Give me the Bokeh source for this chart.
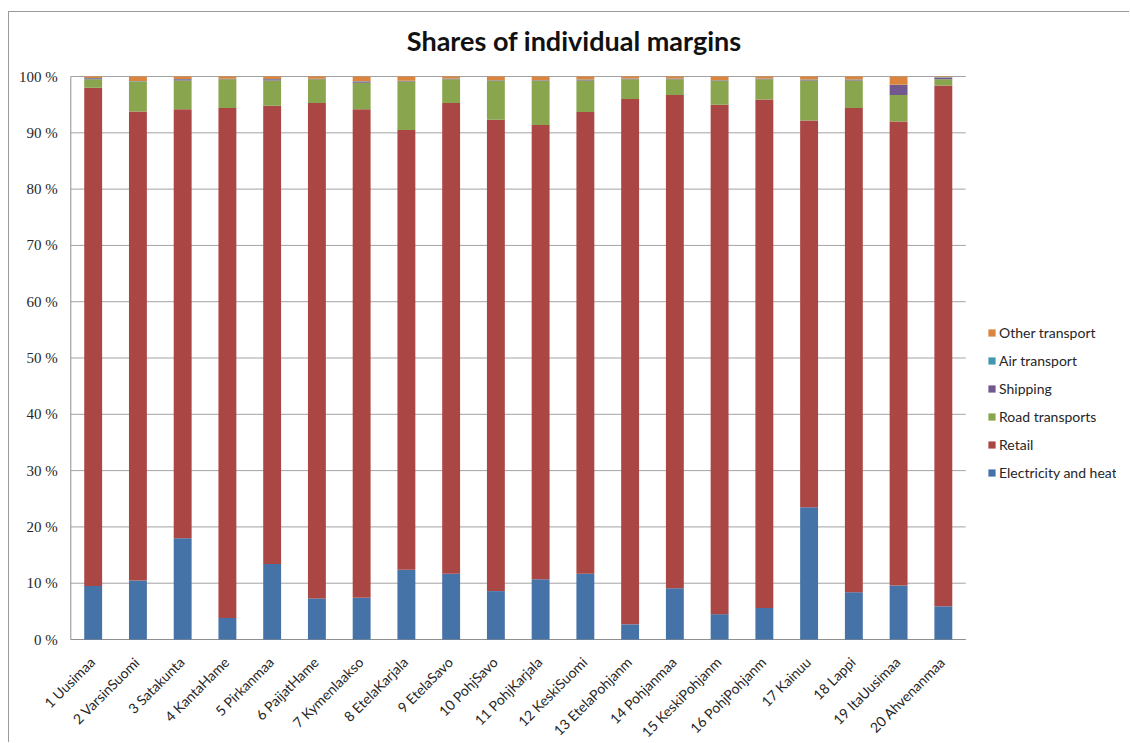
from bokeh.plotting import figure
from bokeh.models import ColumnDataSource, FactorRange, Range1d, Legend, LegendItem, Label
from bokeh.core.properties import value
from bokeh.embed import file_html
from bokeh.resources import INLINE
import math

regions = ["1 Uusimaa", "2 VarsinSuomi", "3 Satakunta", "4 KantaHame", "5 Pirkanmaa",
           "6 PaijatHame", "7 Kymenlaakso", "8 EtelaKarjala", "9 EtelaSavo", "10 PohjSavo",
           "11 PohjKarjala", "12 KeskiSuomi", "13 EtelaPohjanm", "14 Pohjanmaa",
           "15 KeskiPohjanm", "16 PohjPohjanm", "17 Kainuu", "18 Lappi", "19 ItaUusimaa",
           "20 Ahvenanmaa"]

# shares of each margin type, percent
electricity = [9.5, 10.5, 18.0, 3.8, 13.4, 7.3, 7.4, 12.4, 11.7, 8.6,
               10.7, 11.7, 2.7, 9.1, 4.5, 5.6, 23.5, 8.4, 9.6, 5.9]
retail = [88.5, 83.3, 76.2, 90.6, 81.4, 88.0, 86.8, 78.1, 83.6, 83.7,
          80.7, 82.0, 93.3, 87.6, 90.5, 90.3, 68.7, 86.0, 82.4, 92.5]
road = [1.5, 5.3, 5.1, 5.1, 4.5, 4.2, 4.7, 8.6, 4.2, 6.9,
        7.8, 5.6, 3.5, 2.8, 4.2, 3.6, 7.1, 4.9, 4.7, 1.1]
shipping = [0.2, 0.05, 0.2, 0.05, 0.2, 0.05, 0.2, 0.1, 0.1, 0.1,
            0.1, 0.1, 0.1, 0.1, 0.1, 0.1, 0.1, 0.1, 1.8, 0.3]
air = [0.05, 0.05, 0.05, 0.05, 0.05, 0.05, 0.05, 0.05, 0.05, 0.05,
       0.05, 0.05, 0.05, 0.05, 0.05, 0.05, 0.05, 0.05, 0.05, 0.05]
other = [0.25, 0.8, 0.45, 0.4, 0.45, 0.4, 0.85, 0.75, 0.35, 0.65,
         0.65, 0.55, 0.35, 0.35, 0.65, 0.35, 0.55, 0.55, 1.45, 0.15]

series_names = ["Electricity and heat", "Retail", "Road transports", "Shipping",
                "Air transport", "Other transport"]
series_keys = ["electricity", "retail", "road", "shipping", "air", "other"]
colors = ["#4572A7", "#AA4643", "#89A54E", "#71588F", "#4198AF", "#DB843D"]

y_ticks = [0, 10, 20, 30, 40, 50, 60, 70, 80, 90, 100]
y_tick_labels = ["0 %", "10 %", "20 %", "30 %", "40 %", "50 %", "60 %", "70 %",
                 "80 %", "90 %", "100 %"]

# empty slots to the right of the regions, where the legend sits
legend_slots = [" ", "  "]

n = len(regions)
source = ColumnDataSource(dict(region=regions, electricity=electricity, retail=retail,
                               road=road, shipping=shipping, air=air, other=other,
                               base=[0] * n))
ticks = ColumnDataSource(dict(y=y_ticks, label=y_tick_labels, x0=[0] * len(y_ticks),
                              x1=[n] * len(y_ticks)))

# the frame covers the whole drawing area so that the title, slanted names, percent
# labels and the legend all lie inside it; the axes are drawn in data space
x_range = FactorRange(*regions, *legend_slots, range_padding=1.37,
                      range_padding_units="absolute")
p = figure(width=1121, height=731, x_range=x_range, y_range=Range1d(-18.47, 111.37),
           output_backend="svg", toolbar_location=None,
           min_border_left=0, min_border_right=14, min_border_top=0,
           min_border_bottom=0, margin=(11, 0, 0, 8))
p.styles = {"border-left": "1px solid #9a9a9a", "border-top": "1px solid #9a9a9a"}
p.outline_line_color = None
p.background_fill_color = "white"
p.border_fill_color = "white"
p.xaxis.visible = False
p.yaxis.visible = False
p.xgrid.grid_line_color = None
p.ygrid.grid_line_color = None

# horizontal grid lines and the two axis lines
p.segment(x0="x0", x1="x1", y0="y", y1="y", source=ticks, line_color="#a3a3a3",
          line_width=1)
p.segment(x0=[0, 0], y0=[0, 0], x1=[0, n], y1=[100, 0], line_color="#8f8f8f",
          line_width=1)

renderers = p.vbar_stack(series_keys, x="region", width=0.4, source=source,
                         color=colors, line_color=None)

# percent labels on the left
p.text(x="x0", y="y", text="label", source=ticks, x_offset=-13, text_align="right",
       text_baseline="middle", text_font=value("Liberation Serif"),
       text_font_size="15px", text_color="#262626")

# region names below the baseline
p.text(x="region", y="base", text="region", source=source, angle=math.pi / 4,
       text_align="right", text_baseline="middle", x_offset=-1, y_offset=20,
       text_font=value("Lato"), text_font_size="14px", text_color="#262626")

# legend, top item is the top of the stack
items = [LegendItem(label=nm, renderers=[r]) for nm, r in zip(series_names, renderers)]
legend = Legend(items=list(reversed(items)), location=(978, 261),
                glyph_width=9, glyph_height=9, label_standoff=3, spacing=8,
                label_height=20, padding=0, margin=0,
                label_text_font="Lato", label_text_font_size="14px",
                label_text_color="#262626", border_line_color=None,
                background_fill_alpha=0)
p.add_layout(legend)

p.add_layout(Label(x=568, y=703, x_units="screen", y_units="screen",
                   text="Shares  of individual margins", text_align="center",
                   text_baseline="alphabetic", text_font="Lato",
                   text_font_style="bold", text_font_size="27px",
                   text_color="#111111"))

open("out.html", "w").write(file_html(p, INLINE))
